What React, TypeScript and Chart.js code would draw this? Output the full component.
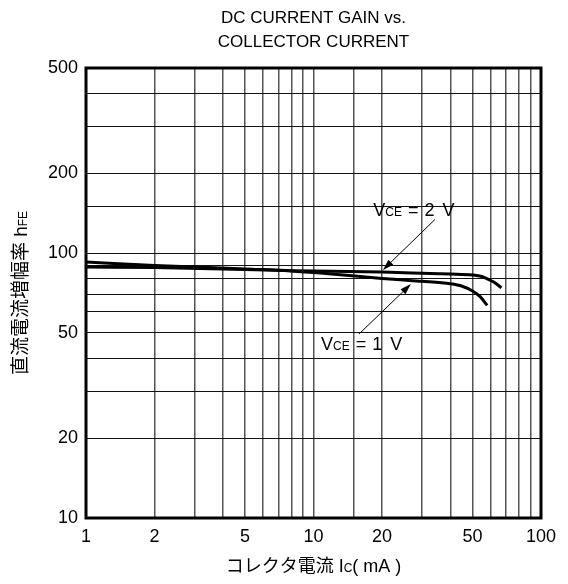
import React, { useEffect, useRef } from "react";
import { Chart, registerables } from "chart.js";

Chart.register(...registerables);

// Collector current (mA) and DC current gain for each VCE curve
const IC_2V = [1, 2, 5, 8, 12, 20, 30, 40, 50, 55, 58, 62, 67];
const HFE_2V = [88.6, 88.2, 86.8, 85.8, 85.5, 84.8, 84.0, 83.4, 82.7, 81.6, 80.0, 77.8, 74.0];
const IC_1V = [1, 2, 5, 8, 12, 20, 24, 30, 40, 45, 50, 54, 58];
const HFE_1V = [92.5, 89.9, 87.1, 85.7, 83.4, 80.2, 79.3, 78.3, 76.6, 75.0, 72.0, 68.5, 63.5];

const X_LABELS = [1, 2, 5, 10, 20, 50, 100];
const Y_LABELS = [10, 20, 50, 100, 200, 500];

const TITLE_LINES = ["DC CURRENT GAIN vs.", "COLLECTOR CURRENT"];
const FONT = "'Liberation Sans', Arial, 'Noto Sans CJK JP', sans-serif";
const CJK_FONT = "'Liberation Sans', 'Noto Sans CJK JP', sans-serif";

// annotations: label anchor (Ic, hFE), arrow tail and arrow tip in data units
const ANNOTATIONS = [
  { v: "2", label: [18.3, 138], tail: [34.2, 134], tip: [20.2, 86.4] },
  { v: "1", label: [10.8, 43.1], tail: [15.85, 49.5], tip: [26.8, 76.4] },
];

function drawPieces(ctx: CanvasRenderingContext2D, pieces: { t: string; f: string; gap?: number }[], x: number, y: number) {
  let cx = x;
  for (const p of pieces) {
    ctx.font = p.f;
    ctx.fillText(p.t, cx, y);
    cx += ctx.measureText(p.t).width + (p.gap || 0);
  }
  return cx;
}

function measurePieces(ctx: CanvasRenderingContext2D, pieces: { t: string; f: string; gap?: number }[]) {
  let w = 0;
  for (const p of pieces) {
    ctx.font = p.f;
    w += ctx.measureText(p.t).width + (p.gap || 0);
  }
  return w;
}

const decorPlugin = {
  id: "decor",
  afterDraw(chart: any) {
    const ctx: CanvasRenderingContext2D = chart.ctx;
    const a = chart.chartArea;
    const xs = chart.scales.x;
    const ys = chart.scales.y;
    ctx.save();
    // frame
    ctx.strokeStyle = "#000";
    ctx.lineWidth = 3;
    ctx.strokeRect(a.left, a.top, a.right - a.left, a.bottom - a.top);

    // title
    ctx.fillStyle = "#000";
    ctx.textAlign = "center";
    ctx.textBaseline = "middle";
    ctx.font = `17px ${FONT}`;
    const cxm = (a.left + a.right) / 2;
    ctx.fillText(TITLE_LINES[0], cxm, 18);
    ctx.fillText(TITLE_LINES[1], cxm, 42);

    // x axis title
    ctx.textAlign = "left";
    ctx.textBaseline = "alphabetic";
    const xPieces = [
      { t: "コレクタ電流 I", f: `18px ${CJK_FONT}` },
      { t: "C", f: `12px ${FONT}` },
      { t: "( mA )", f: `18px ${FONT}` },
    ];
    const xw = measurePieces(ctx, xPieces);
    drawPieces(ctx, xPieces, cxm - xw / 2, 572);

    // y axis title (rotated)
    const yPieces = [
      { t: "直流電流増幅率 h", f: `19px ${CJK_FONT}` },
      { t: "FE", f: `12px ${FONT}` },
    ];
    const yw = measurePieces(ctx, yPieces);
    ctx.save();
    ctx.translate(27, (a.top + a.bottom) / 2);
    ctx.rotate(-Math.PI / 2);
    drawPieces(ctx, yPieces, -yw / 2, 0);
    ctx.restore();

    // annotations
    for (const an of ANNOTATIONS) {
      const lx = xs.getPixelForValue(an.label[0]);
      const ly = ys.getPixelForValue(an.label[1]);
      ctx.fillStyle = "#000";
      drawPieces(
        ctx,
        [
          { t: "V", f: `18px ${FONT}` },
          { t: "CE", f: `12px ${FONT}`, gap: 6 },
          { t: "=", f: `18px ${FONT}`, gap: 6 },
          { t: an.v, f: `18px ${FONT}`, gap: 8 },
          { t: "V", f: `18px ${FONT}` },
        ],
        lx,
        ly
      );
      const tx = xs.getPixelForValue(an.tail[0]);
      const ty = ys.getPixelForValue(an.tail[1]);
      const px = xs.getPixelForValue(an.tip[0]);
      const py = ys.getPixelForValue(an.tip[1]);
      const ang = Math.atan2(py - ty, px - tx);
      const hl = 11;
      const hw = 3.5;
      ctx.strokeStyle = "#000";
      ctx.lineWidth = 1;
      ctx.beginPath();
      ctx.moveTo(tx, ty);
      ctx.lineTo(px - Math.cos(ang) * hl * 0.8, py - Math.sin(ang) * hl * 0.8);
      ctx.stroke();
      const bx = px - Math.cos(ang) * hl;
      const by = py - Math.sin(ang) * hl;
      ctx.beginPath();
      ctx.moveTo(px, py);
      ctx.lineTo(bx + Math.sin(ang) * hw, by - Math.cos(ang) * hw);
      ctx.lineTo(bx - Math.sin(ang) * hw, by + Math.cos(ang) * hw);
      ctx.closePath();
      ctx.fill();
    }
    ctx.restore();
  },
};

function mantissaLabel(v: number, allowed: number[]) {
  const p = Math.pow(10, Math.floor(Math.log10(v) + 1e-9));
  const m = Math.round(v / p);
  return allowed.includes(Math.round(v)) && [1, 2, 5].includes(m) ? String(Math.round(v)) : "";
}

export default function App() {
  const ref = useRef<HTMLCanvasElement | null>(null);
  useEffect(() => {
    if (!ref.current) return;
    const chart = new Chart(ref.current, {
      type: "line",
      data: {
        datasets: [
          {
            label: "VCE = 2 V",
            data: IC_2V.map((x, i) => ({ x, y: HFE_2V[i] })),
            borderColor: "#000",
            borderWidth: 3,
            pointRadius: 0,
            cubicInterpolationMode: "monotone",
            fill: false,
          },
          {
            label: "VCE = 1 V",
            data: IC_1V.map((x, i) => ({ x, y: HFE_1V[i] })),
            borderColor: "#000",
            borderWidth: 3,
            pointRadius: 0,
            cubicInterpolationMode: "monotone",
            fill: false,
          },
        ],
      },
      options: {
        responsive: false,
        animation: false,
        events: [],
        layout: { padding: { top: 68, right: 27, left: 0, bottom: 0 } },
        plugins: { legend: { display: false }, title: { display: false }, tooltip: { enabled: false } },
        scales: {
          x: {
            type: "logarithmic",
            min: 1,
            max: 100,
            border: { display: false },
            grid: { color: "#555", lineWidth: 1.5, drawTicks: false },
            ticks: {
              autoSkip: false,
              maxRotation: 0,
              padding: 8,
              color: "#000",
              font: { family: FONT, size: 18 },
              callback: (v: any) => mantissaLabel(Number(v), X_LABELS),
            },
            afterFit: (s: any) => {
              s.height = 66;
            },
          },
          y: {
            type: "logarithmic",
            min: 10,
            max: 500,
            border: { display: false },
            grid: { color: "#111", lineWidth: 1, drawTicks: false },
            ticks: {
              autoSkip: false,
              padding: 8,
              color: "#000",
              font: { family: FONT, size: 18 },
              callback: (v: any) => mantissaLabel(Number(v), Y_LABELS),
            },
            afterFit: (s: any) => {
              s.width = 86;
            },
          },
        },
      } as any,
      plugins: [decorPlugin],
    });
    return () => chart.destroy();
  }, []);
  return (
    <div style={{ position: "fixed", left: 0, top: 0, width: 568, height: 584, background: "#fff" }}>
      <canvas ref={ref} width={568} height={584} style={{ width: 568, height: 584 }} />
    </div>
  );
}
